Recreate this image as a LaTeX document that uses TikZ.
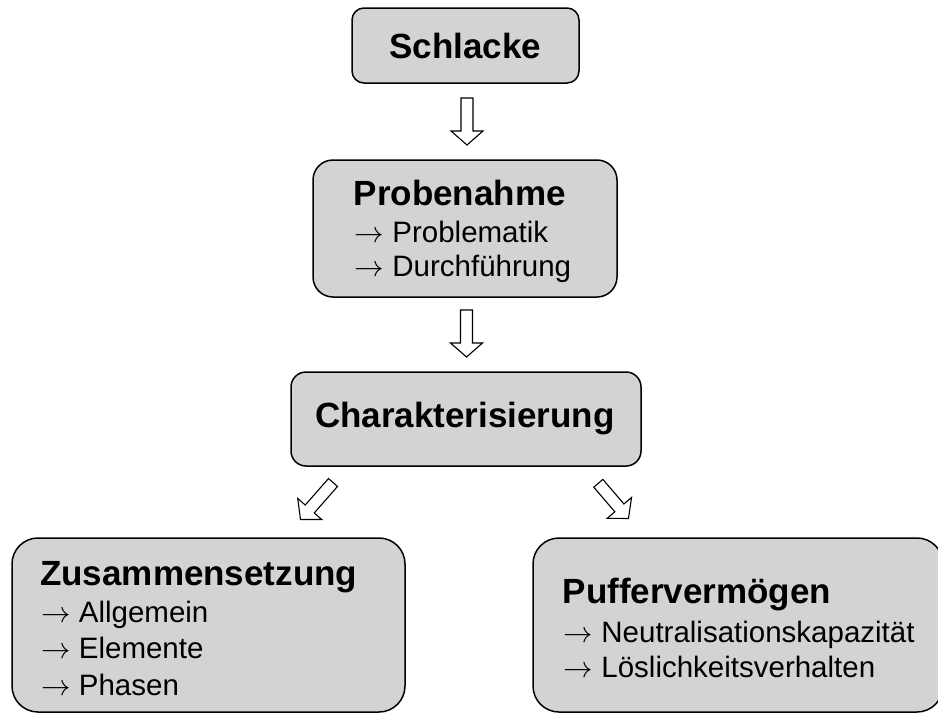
\RequirePackage{fix-cm}
\documentclass[tikz,border=0pt]{standalone}
\usepackage{fontspec}
\setmainfont{Liberation Sans}
\usetikzlibrary{calc}
\definecolor{boxgray}{RGB}{211,211,211}
\tikzset{
  box/.style={draw=black, fill=boxgray, line width=1.5pt, inner sep=0pt},
  ttl/.style={font=\fontsize{35}{42}\selectfont\bfseries, inner sep=0pt},
  itm/.style={font=\fontsize{29.5}{35}\selectfont, inner sep=0pt, anchor=base west},
  blk/.style={draw=black, fill=white, line width=1.1pt, line join=miter},
}
\newcommand\blockarrow[2]{%
  \coordinate (#1h) at ($(#2)!14pt!(#1)$);
  \draw[blk] ($(#1)!6pt!90:(#2)$) -- ($(#1h)!6pt!90:(#2)$) -- ($(#1h)!16pt!90:(#2)$)
    -- (#2) -- ($(#1h)!16pt!-90:(#2)$) -- ($(#1h)!6pt!-90:(#2)$) -- ($(#1)!6pt!-90:(#2)$) -- cycle;}
\newcommand\arr{$\rightarrow$\ }
\begin{document}
\begin{tikzpicture}[x=1pt, y=-1pt]
\useasboundingbox (0,0) rectangle (938,713);
% boxes
\node[box, rounded corners=12pt, minimum width=227pt, minimum height=75pt] (schlacke) at (465.5,45.5) {};
\node[ttl] (schlackeT) at (465.5,45.5) {Schlacke};
\node[box, rounded corners=20pt, minimum width=304pt, minimum height=137pt] (probe) at (465,228.5) {};
\node[ttl, anchor=base west] (probeT) at (353.5,205) {Probenahme};
\node[itm] (probe1) at (354.5,242.5) {\arr Problematik};
\node[itm] (probe2) at (354.5,276) {\arr Durchführung};
\node[box, rounded corners=15pt, minimum width=350pt, minimum height=94pt] (chara) at (466,419) {};
\node[ttl] (charaT) at (465,419) {Charakterisierung};
\node[box, rounded corners=26pt, minimum width=393pt, minimum height=174pt] (zus) at (208.5,625) {};
\node[ttl, anchor=base west] (zusT) at (40,585) {Zusammensetzung};
\node[itm] (zus1) at (41,622.7) {\arr Allgemein};
\node[itm] (zus2) at (41,658.3) {\arr Elemente};
\node[itm] (zus3) at (41,695) {\arr Phasen};
\node[box, rounded corners=26pt, minimum width=410pt, minimum height=174pt] (puf) at (738,625) {};
\node[ttl, anchor=base west] (pufT) at (562.5,603) {Puffervermögen};
\node[itm] (puf1) at (563.5,642) {\arr Neutralisationskapazität};
\node[itm] (puf2) at (563.5,677) {\arr Löslichkeitsverhalten};
% block arrows
\coordinate (aA) at (467,98);   \coordinate (aB) at (467,145);
\coordinate (bA) at (466.5,310); \coordinate (bB) at (466.5,357);
\coordinate (cA) at (333,482.5); \coordinate (cB) at (300.5,519.5);
\coordinate (dA) at (598.3,483.3); \coordinate (dB) at (628.5,518.5);
\blockarrow{aA}{aB}
\blockarrow{bA}{bB}
\blockarrow{cA}{cB}
\blockarrow{dA}{dB}
\end{tikzpicture}
\end{document}
